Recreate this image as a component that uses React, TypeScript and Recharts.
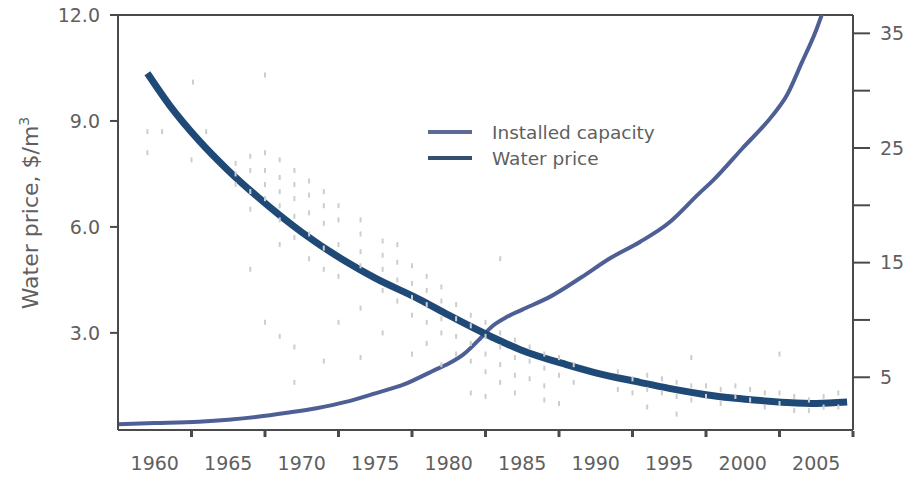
import React from "react";
import {
  ComposedChart,
  Line,
  Scatter,
  XAxis,
  YAxis,
  ReferenceLine,
  Legend,
} from "recharts";

const AXIS = "#4a4a4a";
const TEXT = "#5f5f5f";
const FONT = "'DejaVu Sans', sans-serif";
const PRICE_COLOR = "#1f4a78";
const CAPACITY_COLOR = "#4d5f94";

const WIDTH = 920;
const HEIGHT = 485;
const LEFT_W = 118;
const RIGHT_W = 67;
const X_MIN = 1957.5;
const X_MAX = 2007.5;

const yearTicks = [1960, 1965, 1970, 1975, 1980, 1985, 1990, 1995, 2000, 2005];
const priceTicks = [3, 6, 9, 12];
const capacityTicks = [5, 10, 15, 20, 25, 30, 35];
const capacityLabels = [5, 15, 25, 35];

// water price, $/m3 (left axis)
const priceYears = [
  1959.5, 1961, 1963, 1965, 1967, 1970, 1973, 1975, 1978, 1980, 1983, 1985,
  1988, 1990, 1993, 1995, 1998, 2000, 2003, 2005, 2007.1,
];
const priceValues = [
  10.35, 9.45, 8.45, 7.6, 6.85, 5.85, 5.02, 4.55, 3.95, 3.5, 2.87, 2.5, 2.1,
  1.87, 1.6, 1.43, 1.22, 1.13, 1.03, 1.0, 1.04,
];

// installed capacity (right axis)
const capacityYears = [
  1957.5, 1960, 1963, 1965, 1967, 1969, 1971, 1973, 1975, 1977, 1979, 1980,
  1981, 1982, 1983, 1984, 1985, 1987, 1989, 1991, 1993, 1995, 1997, 1998,
  2000, 2002, 2003, 2004, 2005, 2006,
];
const capacityValues = [
  0.9, 1.0, 1.13, 1.3, 1.55, 1.9, 2.3, 2.85, 3.6, 4.4, 5.6, 6.2, 7.0, 8.2,
  9.5, 10.3, 10.9, 12.1, 13.7, 15.4, 16.8, 18.5, 21.0, 22.2, 25.0, 27.8, 29.6,
  32.4, 35.3, 39.0,
];

// individual plant prices (faint marks)
const scatterYears = [
  1959.5, 1959.5, 1960.5, 1962.6, 1963.5, 1962.5,
  1965.5, 1965.5, 1965.5,
  1966.5, 1966.5, 1966.5, 1966.5, 1966.5,
  1967.5, 1967.5, 1967.5, 1967.5, 1967.5, 1967.5,
  1968.5, 1968.5, 1968.5, 1968.5, 1968.5, 1968.5, 1968.5,
  1969.5, 1969.5, 1969.5, 1969.5, 1969.5, 1969.5, 1969.5,
  1970.5, 1970.5, 1970.5, 1970.5, 1970.5,
  1971.5, 1971.5, 1971.5, 1971.5, 1971.5, 1971.5,
  1972.5, 1972.5, 1972.5, 1972.5, 1972.5,
  1974, 1974, 1974, 1974, 1974, 1974,
  1975.5, 1975.5, 1975.5, 1975.5, 1975.5,
  1976.5, 1976.5, 1976.5, 1976.5,
  1977.5, 1977.5, 1977.5, 1977.5, 1977.5,
  1978.5, 1978.5, 1978.5, 1978.5, 1978.5,
  1979.5, 1979.5, 1979.5, 1979.5, 1979.5,
  1980.5, 1980.5, 1980.5, 1980.5,
  1981.5, 1981.5, 1981.5, 1981.5, 1981.5,
  1982.5, 1982.5, 1982.5, 1982.5, 1982.5,
  1983.5, 1983.5, 1983.5, 1983.5, 1983.5,
  1984.5, 1984.5, 1984.5, 1984.5,
  1985.5, 1985.5, 1985.5,
  1986.5, 1986.5, 1986.5, 1986.5,
  1987.5, 1987.5, 1987.5,
  1988.5, 1988.5,
  1991.5, 1991.5, 1992.5, 1992.5,
  1993.5, 1993.5, 1993.5, 1994.5, 1994.5,
  1995.5, 1995.5, 1995.5, 1996.5, 1996.5, 1996.5,
  1997.5, 1997.5, 1998.5, 1998.5, 1999.5, 1999.5,
  2000.5, 2000.5, 2001.5, 2001.5, 2002.5, 2002.5, 2002.5,
  2003.5, 2003.5, 2004.5, 2004.5, 2005.5, 2005.5, 2006.5, 2006.5,
];
const scatterPrices = [
  8.7, 8.1, 8.7, 10.1, 8.7, 7.9,
  7.8, 7.5, 7.2,
  8.0, 7.6, 7.0, 6.5, 4.8,
  10.3, 8.1, 7.6, 7.2, 6.8, 3.3,
  7.9, 7.4, 7.0, 6.6, 6.2, 5.5, 2.9,
  7.6, 7.2, 6.8, 6.3, 5.7, 2.6, 1.6,
  7.3, 6.9, 6.4, 5.8, 5.1,
  7.0, 6.6, 6.1, 5.4, 4.8, 2.2,
  6.6, 6.2, 5.5, 4.6, 3.3,
  6.2, 5.8, 5.3, 4.9, 3.7, 2.3,
  5.6, 5.2, 4.8, 4.2, 3.0,
  5.5, 5.0, 4.5, 3.9,
  4.9, 4.4, 4.0, 3.5, 2.4,
  4.6, 4.2, 3.8, 3.3, 2.7,
  4.3, 3.9, 3.4, 3.0, 2.1,
  3.8, 3.4, 2.9, 2.4,
  3.5, 3.2, 2.7, 2.2, 1.3,
  3.3, 2.9, 2.4, 1.9, 1.2,
  3.0, 2.6, 2.1, 1.6, 5.1,
  2.8, 2.3, 1.8, 1.3,
  2.6, 2.2, 1.7,
  2.4, 2.0, 1.5, 1.1,
  2.3, 1.8, 1.0,
  2.1, 1.6,
  1.9, 1.4, 1.7, 1.3,
  1.8, 1.4, 0.9, 1.7, 1.3,
  1.6, 1.2, 0.7, 2.3, 1.5, 1.1,
  1.5, 1.2, 1.4, 1.0, 1.5, 1.2,
  1.4, 1.1, 1.3, 0.9, 2.4, 1.3, 1.0,
  1.2, 0.8, 1.1, 0.8, 1.2, 0.9, 1.3, 0.9,
];

const priceData = priceYears.map((year, i) => ({ year, price: priceValues[i] }));
const capacityData = capacityYears.map((year, i) => ({
  year,
  capacity: capacityValues[i],
}));
const scatterData = scatterYears.map((year, i) => ({
  year,
  price: scatterPrices[i],
}));

const HALF_STEP_PX = ((WIDTH - LEFT_W - RIGHT_W) / (X_MAX - X_MIN)) * 2.5;

const YearTick = (props: any) => {
  const { x, y, payload } = props;
  return (
    <g>
      <rect x={x + HALF_STEP_PX - 1.5} y={y + 1} width={3} height={6} fill={AXIS} />
      <text
        x={x}
        y={y + 40}
        textAnchor="middle"
        fontFamily={FONT}
        fontSize={19}
        fill={TEXT}
      >
        {payload.value}
      </text>
    </g>
  );
};

const Dash = (props: any) => (
  <rect x={props.cx - 1} y={props.cy - 2.5} width={2} height={5} fill="#cdcdcd" />
);

const legendItems = [
  { label: "Installed capacity", color: "#5b6b94" },
  { label: "Water price", color: "#34506e" },
];

const LegendBox = () => (
  <div style={{ fontFamily: FONT, fontSize: 18.5, color: TEXT }}>
    {legendItems.map((item) => (
      <div
        key={item.label}
        style={{ display: "flex", alignItems: "center", height: 26 }}
      >
        <span
          style={{
            display: "inline-block",
            width: 44,
            height: 4,
            background: item.color,
            marginRight: 20,
          }}
        />
        {item.label}
      </div>
    ))}
  </div>
);

const YTitle = () => (
  <text
    transform="translate(38,213) rotate(-90)"
    textAnchor="middle"
    fontFamily={FONT}
    fontSize={22}
    fill={TEXT}
  >
    Water price, $/m
    <tspan fontSize={14} dy={-9}>
      3
    </tspan>
  </text>
);

export default function App() {
  return (
    <div style={{ position: "absolute", left: 0, top: 0, background: "#fff" }}>
      <ComposedChart
        width={WIDTH}
        height={HEIGHT}
        margin={{ top: 15, right: 0, bottom: 0, left: 0 }}
      >
        <XAxis
          dataKey="year"
          type="number"
          domain={[X_MIN, X_MAX]}
          ticks={yearTicks}
          allowDataOverflow
          height={55}
          tickLine={false}
          tickSize={0}
          tickMargin={0}
          axisLine={{ stroke: AXIS, strokeWidth: 2 }}
          tick={<YearTick />}
        />
        <YAxis
          yAxisId="left"
          type="number"
          domain={[0.25, 12]}
          allowDataOverflow
          ticks={priceTicks}
          tickFormatter={(v: number) => v.toFixed(1)}
          width={LEFT_W}
          tickSize={8}
          tickMargin={10}
          axisLine={{ stroke: AXIS, strokeWidth: 2 }}
          tickLine={{ stroke: AXIS, strokeWidth: 2 }}
          tick={{ fontFamily: FONT, fontSize: 19, fill: TEXT }}
          label={{ value: "Water price", content: () => <YTitle /> }}
        />
        <YAxis
          yAxisId="right"
          orientation="right"
          type="number"
          domain={[0.4, 36.6]}
          allowDataOverflow
          ticks={capacityTicks}
          tickFormatter={(v: number) =>
            capacityLabels.includes(v) ? String(v) : ""
          }
          width={RIGHT_W}
          tickSize={17}
          tickMargin={10}
          axisLine={{ stroke: AXIS, strokeWidth: 2 }}
          tickLine={{ stroke: AXIS, strokeWidth: 2 }}
          tick={{ fontFamily: FONT, fontSize: 19, fill: TEXT, textAnchor: "start" }}
        />
        <ReferenceLine yAxisId="left" y={12} stroke={AXIS} strokeWidth={2} />
        <Scatter
          yAxisId="left"
          data={scatterData}
          dataKey="price"
          shape={<Dash />}
          isAnimationActive={false}
        />
        <Line
          yAxisId="right"
          data={capacityData}
          dataKey="capacity"
          type="monotone"
          stroke={CAPACITY_COLOR}
          strokeWidth={4}
          dot={false}
          isAnimationActive={false}
        />
        <Line
          yAxisId="left"
          data={priceData}
          dataKey="price"
          type="monotone"
          stroke={PRICE_COLOR}
          strokeWidth={7}
          dot={false}
          isAnimationActive={false}
        />
        <Legend
          layout="vertical"
          align="center"
          verticalAlign="middle"
          content={() => <LegendBox />}
          wrapperStyle={{ left: 428, top: 119, width: "auto" }}
        />
      </ComposedChart>
    </div>
  );
}
